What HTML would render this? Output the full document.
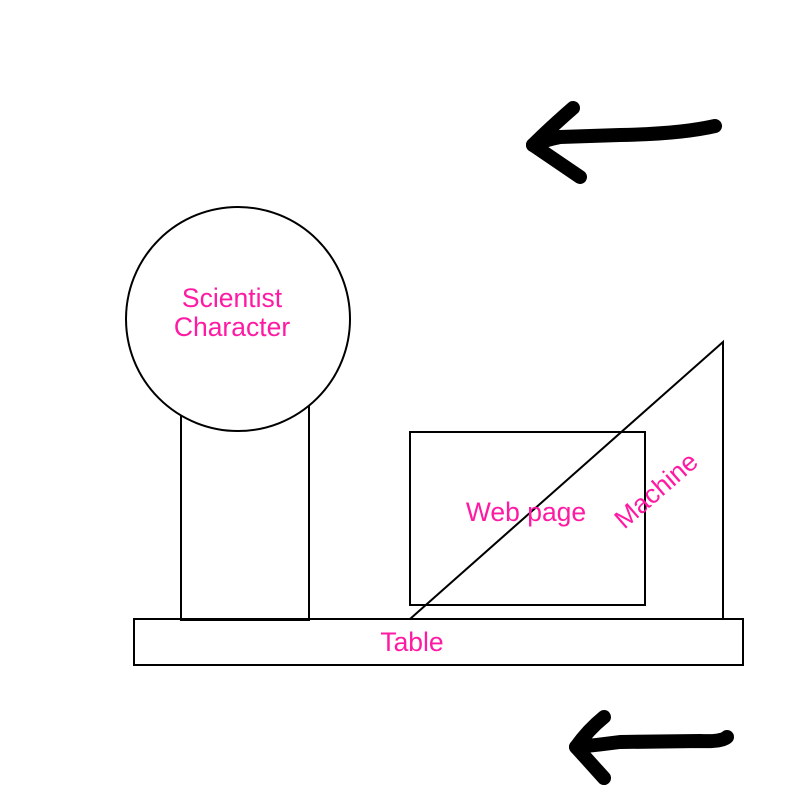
<!DOCTYPE html>
<html><head><style>body{margin:0;background:#fff}</style></head><body>
<svg width="800" height="800" xmlns="http://www.w3.org/2000/svg" style="display:block">
<rect width="800" height="800" fill="#fff"/>
<g fill="none" stroke="#000" stroke-width="2">
<rect x="181" y="395" width="128" height="225"/>
<circle cx="238" cy="319" r="112" fill="#fff"/>
<rect x="134" y="619" width="609" height="46"/>
<rect x="410" y="432" width="235" height="173"/>
<polygon points="410,619 723,342 723,619"/>
</g>
<g fill="none" stroke="#000" stroke-width="14" stroke-linecap="round" stroke-linejoin="round">
<path d="M715,126 Q680,134 620,135 L560,137 Q545,140 533,145"/>
<path d="M573,108 Q550,128 533,145 L580,177"/>
<path d="M727,737 Q722,742 700,741 L620,742 Q598,745 576,747"/>
<path d="M604,717 Q588,730 576,747 L604,778"/>
</g>
<g fill="#ff1aa3" font-family="Liberation Sans, sans-serif" font-size="26.5" text-anchor="middle">
<text x="232" y="307">Scientist</text>
<text x="232" y="336">Character</text>
<text x="526" y="521">Web page</text>
<text x="412" y="651">Table</text>
<text x="662" y="497" transform="rotate(-41 662 497)">Machine</text>
</g>
</svg>
</body></html>
